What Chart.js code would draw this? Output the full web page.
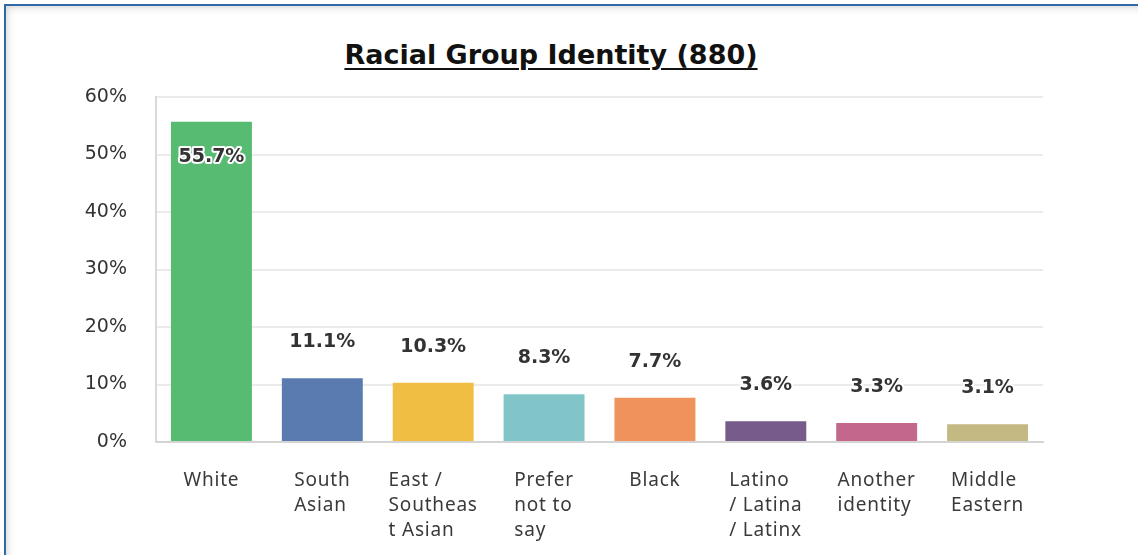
<!DOCTYPE html>
<html>
<head>
<meta charset="utf-8">
<script src="https://cdn.jsdelivr.net/npm/chart.js@4"></script>
<style>
  html, body { margin: 0; padding: 0; background: #fff; overflow: hidden; }
  #frame {
    position: absolute; left: 4px; top: 4px; width: 1150px; height: 570px;
    border: 2px solid #2d6aa6; box-shadow: inset 0 0 10px rgba(0,0,0,0.22);
  }
  #title {
    position: absolute; left: 0; width: 1102px; top: 39px; text-align: center;
    font: bold 27px "DejaVu Sans", sans-serif; color: #111; text-decoration: underline;
    text-underline-offset: 4px; text-decoration-thickness: 2px;
  }
  #wrap { position: absolute; left: 0; top: 0; width: 1138px; height: 555px; }
</style>
</head>
<body>
<div id="frame"></div>
<div id="title">Racial Group Identity (880)</div>
<div id="wrap"><canvas id="chart"></canvas></div>
<script>
// -------- DATA --------
const categories = [
    ["White"], ["South", "Asian"], ["East /", "Southeas", "t Asian"], ["Prefer", "not to", "say"],
    ["Black"], ["Latino", "/ Latina", "/ Latinx"], ["Another", "identity"], ["Middle", "Eastern"]
];
const values = [55.7, 11.1, 10.3, 8.3, 7.7, 3.6, 3.3, 3.1];
const barColors = ["#57bb72", "#5a7bb0", "#f0be42", "#82c5c9", "#f0925c", "#775b8a", "#c4678c", "#c4b883"];
const yTicks = [0, 10, 20, 30, 40, 50, 60];

// -------- LABEL PLUGINS --------
const valueLabels = {
    id: "valueLabels",
    afterDatasetsDraw(chart) {
        const ctx = chart.ctx;
        const meta = chart.getDatasetMeta(0);
        ctx.save();
        ctx.font = "bold 19px 'DejaVu Sans', sans-serif";
        ctx.textAlign = "center";
        ctx.textBaseline = "middle";
        ctx.lineJoin = "round";
        meta.data.forEach((bar, i) => {
            const text = values[i].toFixed(1) + "%";
            const y = i === 0 ? bar.y + 35 : bar.y - 36;
            ctx.strokeStyle = "#fff";
            ctx.lineWidth = 4;
            ctx.strokeText(text, bar.x, y);
            ctx.fillStyle = "#333";
            ctx.fillText(text, bar.x, y);
        });
        ctx.restore();
    }
};

const categoryLabels = {
    id: "categoryLabels",
    afterDraw(chart) {
        const ctx = chart.ctx;
        const xScale = chart.scales.x;
        ctx.save();
        ctx.font = "19px 'Noto Sans', sans-serif";
        ctx.letterSpacing = "0.8px";
        ctx.fillStyle = "#3a3a3a";
        ctx.textAlign = "left";
        ctx.textBaseline = "middle";
        categories.forEach((lines, i) => {
            const cx = xScale.getPixelForTick(i);
            const w = Math.max(...lines.map(l => ctx.measureText(l).width));
            lines.forEach((line, j) => {
                ctx.fillText(line, cx - w / 2, chart.chartArea.bottom + 39 + j * 25);
            });
        });
        ctx.restore();
    }
};

// -------- CHART --------
new Chart(document.getElementById("chart"), {
    type: "bar",
    data: {
        labels: categories.map(c => c.join(" ")),
        datasets: [{
            data: values,
            backgroundColor: barColors,
            borderWidth: 0,
            barPercentage: 0.73,
            categoryPercentage: 1
        }]
    },
    options: {
        responsive: true,
        maintainAspectRatio: false,
        animation: false,
        layout: { padding: { left: 0, top: 97, right: 95, bottom: 0 } },
        plugins: { legend: { display: false }, tooltip: { enabled: false } },
        scales: {
            x: {
                grid: { display: false },
                border: { color: "#d4d4d4", width: 2 },
                ticks: { display: false },
                afterFit: s => { s.height = 113; }
            },
            y: {
                min: yTicks[0],
                max: yTicks[yTicks.length - 1],
                afterBuildTicks: s => { s.ticks = yTicks.map(v => ({ value: v })); },
                grid: { color: "#ebebeb", lineWidth: 2, drawTicks: false },
                border: { color: "#d9d9d9", width: 2 },
                ticks: {
                    padding: 29,
                    color: "#333",
                    font: { family: "'DejaVu Sans', sans-serif", size: 19 },
                    callback: v => v + "%"
                },
                afterFit: s => { s.width = 156; }
            }
        }
    },
    plugins: [valueLabels, categoryLabels]
});
</script>
</body>
</html>
